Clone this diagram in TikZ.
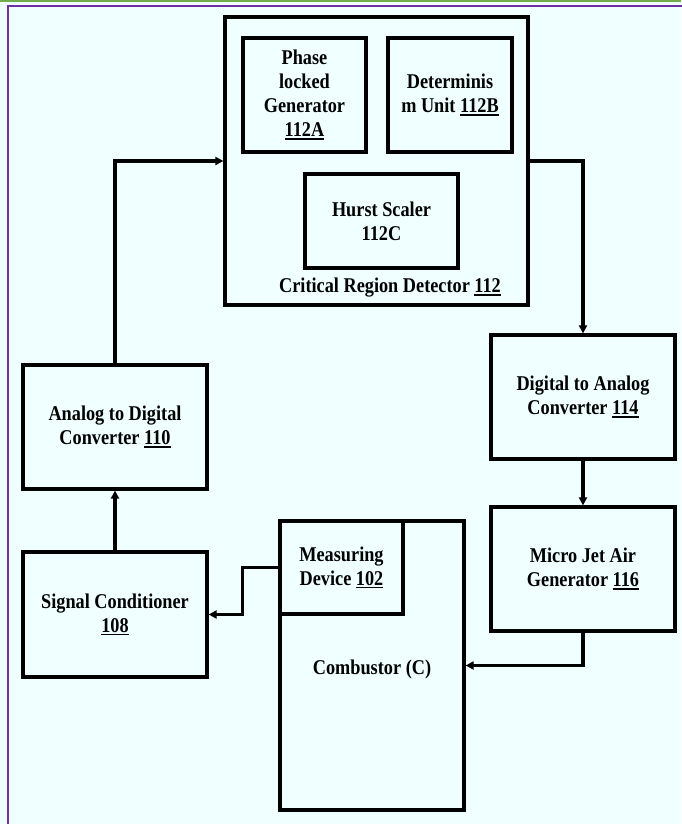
\documentclass[tikz,border=0pt]{standalone}
\usepackage{fontspec}
\setmainfont{Liberation Serif}[FakeStretch=0.87]
\usetikzlibrary{arrows.meta}
\definecolor{bgc}{HTML}{F0FFFF}
\definecolor{frame}{HTML}{7030A0}
\definecolor{topline}{HTML}{70AD47}
\newcommand\myul[1]{\setbox0\hbox{#1}\rlap{\rule[-3pt]{\wd0}{1.5pt}}\box0}
\tikzset{
  blk/.style={draw, line width=3.2pt, inner sep=0pt, align=center,
    font=\fontsize{21}{24}\selectfont\bfseries},
  lbl/.style={inner sep=0pt, align=center, font=\fontsize{21}{24}\selectfont\bfseries},
  conn/.style={draw, line width=3.2pt, -{Triangle[length=8pt,width=8pt]}},
}
\begin{document}
\begin{tikzpicture}[x=1pt,y=-1pt]
\useasboundingbox (0,0) rectangle (681,824);
\fill[bgc] (0,0) rectangle (681,824);
\draw[topline, line width=1.6pt] (0,0.8) -- (681,0.8);
\draw[frame, line width=2pt] (7.5,830) -- (7.5,6.5) -- (690,6.5);

% Critical Region Detector
\node[blk, minimum width=303pt, minimum height=288pt] (crd) at (376.5,161) {};
\node[lbl] (crdtext) at (390,288) {Critical Region Detector \myul{112}};
\node[blk, minimum width=123pt, minimum height=114pt] (pl) at (304.5,95)
  {Phase\\locked\\Generator\\\myul{112A}};
\node[blk, minimum width=124pt, minimum height=114pt] (det) at (450,95)
  {Determinis\\m Unit \myul{112B}};
\node[blk, minimum width=153pt, minimum height=94pt] (hurst) at (381.5,221)
  {Hurst Scaler\\112C};

\node[blk, minimum width=184pt, minimum height=124pt] (dac) at (583,397)
  {Digital to Analog\\Converter \myul{114}};
\node[blk, minimum width=184pt, minimum height=124pt] (mj) at (583,569)
  {Micro Jet Air\\Generator \myul{116}};
\node[blk, minimum width=184pt, minimum height=124pt] (adc) at (115,427)
  {Analog to Digital\\Converter \myul{110}};
\node[blk, minimum width=184pt, minimum height=125pt] (sc) at (115,614.5)
  {Signal Conditioner\\\myul{108}};
\node[blk, minimum width=184pt, minimum height=289pt] (comb) at (372,665.5) {};
\node[lbl] (combtext) at (372,669) {Combustor (C)};
\node[blk, minimum width=123pt, minimum height=93pt] (meas) at (341.5,567.5)
  {Measuring\\Device \myul{102}};

% connectors
\draw[conn] (adc.north) |- (crd.west);
\draw[conn] (crd.east) -| (dac.north);
\draw[conn] (dac.south) -- (mj.north);
\draw[conn] (mj.south) |- (comb.east);
\draw[conn] (meas.west) -- ++(-36,0) |- (sc.east);
\draw[conn] (sc.north) -- (adc.south);
\end{tikzpicture}
\end{document}
